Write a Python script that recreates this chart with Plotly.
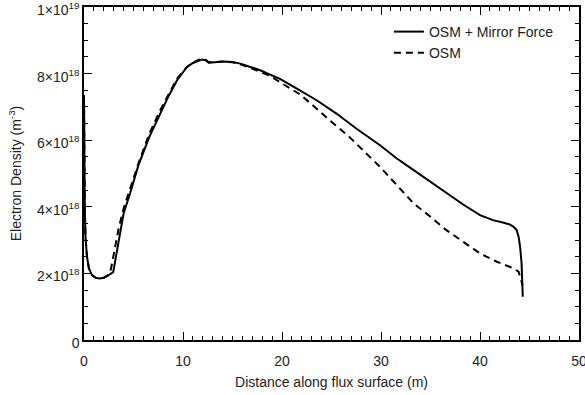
import plotly.graph_objects as go

# OSM + Mirror Force (solid)
x_mirror = [0, 0.03, 0.08, 0.15, 0.3, 0.5, 0.8, 1.2, 1.6, 2.0, 2.4, 2.95, 3.5, 4.0, 4.65,
            5.5, 6.6, 7.7, 8.5, 9.4, 10.4, 11.0, 11.5, 11.9, 12.3, 12.6, 13.2, 14.1,
            15.0, 15.8, 16.8, 17.8, 18.8, 19.8, 21.5, 23.5, 25.5, 27.5, 29.9, 31.6,
            33.3, 35.0, 36.6, 38.3, 40.0, 41.3, 42.4, 43.0, 43.4, 43.7, 43.9, 44.05,
            44.2, 44.3, 44.32]
n_mirror = [7.35, 5.5, 4.0, 3.1, 2.5, 2.15, 1.95, 1.87, 1.85, 1.87, 1.93, 2.04, 2.95, 3.8, 4.4,
            5.25, 6.1, 6.8, 7.3, 7.8, 8.2, 8.32, 8.38, 8.42, 8.4, 8.33, 8.34, 8.36,
            8.35, 8.3, 8.2, 8.1, 7.97, 7.84, 7.55, 7.2, 6.8, 6.35, 5.85, 5.45,
            5.1, 4.75, 4.4, 4.07, 3.75, 3.6, 3.52, 3.47, 3.4, 3.3, 3.1, 2.8,
            2.3, 1.6, 1.3]

# OSM (dashed)
x_osm = [0, 0.03, 0.08, 0.15, 0.3, 0.5, 0.8, 1.2, 1.6, 2.0, 2.4, 2.6, 2.8, 3.0, 3.5, 4.0,
         4.6, 5.5, 6.6, 7.7, 8.5, 9.4, 10.4, 11.0, 11.5, 11.9, 12.3, 12.6, 13.2, 14.1,
         15.0, 15.8, 16.8, 17.8, 18.8, 20.3, 21.8, 23.3, 24.8, 26.8, 28.9, 29.9,
         31.6, 33.3, 35.0, 36.6, 38.3, 40.0, 41.7, 43.4, 43.9, 44.2, 44.3]
n_osm = [7.35, 5.5, 4.0, 3.1, 2.5, 2.15, 1.95, 1.87, 1.85, 1.87, 1.93, 1.98, 2.25, 2.6, 3.35, 3.95,
         4.5, 5.3, 6.2, 6.9, 7.35, 7.85, 8.2, 8.33, 8.4, 8.44, 8.41, 8.34, 8.35, 8.36,
         8.34, 8.28, 8.17, 8.05, 7.93, 7.65, 7.38, 7.0, 6.6, 6.1, 5.5, 5.2,
         4.65, 4.1, 3.7, 3.3, 2.95, 2.6, 2.35, 2.15, 2.05, 1.8, 1.65]

scale = 1e18
y_ticks = [0, 2e18, 4e18, 6e18, 8e18, 1e19]
y_ticktext = ["0", "2×10<sup>18</sup>", "4×10<sup>18</sup>", "6×10<sup>18</sup>",
              "8×10<sup>18</sup>", "1×10<sup>19</sup>"]
x_ticks = [0, 10, 20, 30, 40, 50]

fig = go.Figure()
fig.add_trace(go.Scatter(x=x_mirror, y=[v * scale for v in n_mirror], mode="lines",
                         name="OSM + Mirror Force",
                         line=dict(color="black", width=2)))
fig.add_trace(go.Scatter(x=x_osm, y=[v * scale for v in n_osm], mode="lines",
                         name="OSM",
                         line=dict(color="black", width=2, dash="7px,5px")))

font = dict(family="Liberation Sans, Arial, sans-serif", size=14, color="#222")
TICK = "black"
axis_common = dict(showgrid=False, zeroline=False, showline=True, linecolor="black",
                   linewidth=1.5, mirror="allticks", ticks="inside", ticklen=8,
                   tickwidth=1.2, tickcolor=TICK, tickfont=font,
                   ticklabeloverflow="allow", layer="above traces")

fig.update_xaxes(range=[0, 50], tickvals=x_ticks, ticklabelstandoff=7,
                 minor=dict(dtick=1, ticks="inside", ticklen=4, tickcolor=TICK, tickwidth=1),
                 title=dict(text="Distance along flux surface (m)", font=font, standoff=10),
                 **axis_common)
fig.update_yaxes(range=[0, 1e19], tickvals=y_ticks, ticktext=y_ticktext, ticklabelshift=3,
                 minor=dict(dtick=0.5e18, ticks="inside", ticklen=4, tickcolor=TICK, tickwidth=1),
                 title=dict(text="Electron Density (m<sup>-3</sup>)", font=font, standoff=12),
                 **axis_common)

fig.update_layout(width=585, height=395, margin=dict(l=84, r=6, t=7, b=55, autoexpand=False),
                  paper_bgcolor="white", plot_bgcolor="white", font=font,
                  showlegend=True,
                  legend=dict(x=0.616, y=0.973, xanchor="left", yanchor="top",
                              bgcolor="rgba(0,0,0,0)", font=font,
                              tracegroupgap=0, itemwidth=30))

fig.write_html("out.html", config={"displayModeBar": False},
               post_script="document.body.style.margin='0';document.body.style.padding='0';")
